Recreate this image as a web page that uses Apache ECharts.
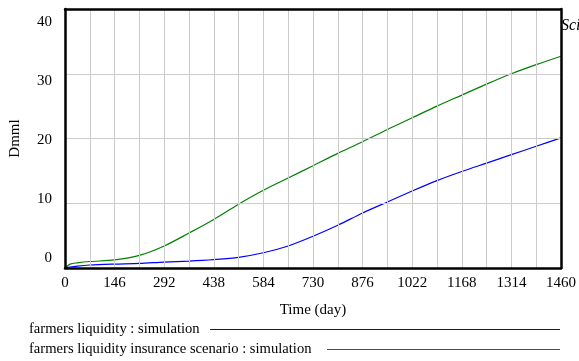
<!DOCTYPE html>
<html>
<head>
<meta charset="utf-8">
<script src="https://cdn.jsdelivr.net/npm/echarts@6/dist/echarts.min.js"></script>
<style>
  html, body { margin: 0; padding: 0; background: #fff; }
  #chart { width: 579px; height: 361px; }
</style>
</head>
<body>
<div id="chart"></div>
<script>
// time (day) samples
const days = [0, 15, 36, 73, 146, 219, 292, 365, 438, 511, 584, 657, 730, 803, 876, 949, 1022, 1095, 1168, 1241, 1314, 1387, 1460];
const liquidity = [0, 0.15, 0.3, 0.46, 0.6, 0.7, 0.92, 1.07, 1.3, 1.65, 2.35, 3.4, 4.9, 6.6, 8.5, 10.2, 11.9, 13.5, 14.9, 16.2, 17.5, 18.8, 20.1];
const insurance = [0, 0.6, 0.8, 1.0, 1.25, 1.95, 3.4, 5.4, 7.5, 9.85, 12.0, 13.9, 15.8, 17.7, 19.5, 21.4, 23.2, 25.0, 26.7, 28.4, 30.0, 31.4, 32.7];
const yTicks = [0, 10, 20, 30, 40];
const seriesNames = ['farmers liquidity : simulation', 'farmers liquidity insurance scenario : simulation'];

const font = 'Liberation Serif';
const chart = echarts.init(document.getElementById('chart'), null, { renderer: 'canvas' });

// vensim puts y labels slightly off their gridlines
const yRich = {};
yTicks.forEach(v => {
  const off = -10 + 0.575 * v;
  yRich['l' + v] = { padding: off > 0 ? [2 * off, 0, 0, 0] : [0, 0, -2 * off, 0] };
});

const frameLine = { show: true, onZero: false, lineStyle: { color: '#000', width: 2.5 } };
const hidden = { show: false };

const option = {
  animation: false,
  textStyle: { fontFamily: font, color: '#000' },
  grid: { left: 65, right: 18, top: 9, bottom: 93 },
  xAxis: [
    {
      type: 'value',
      min: 0, max: 1460, interval: 146,
      name: 'Time (day)',
      nameLocation: 'middle',
      nameGap: 35,
      nameTextStyle: { fontFamily: font, fontSize: 15, color: '#000' },
      axisLine: frameLine,
      axisTick: hidden,
      axisLabel: { fontFamily: font, fontSize: 15, color: '#000', margin: 8, formatter: v => String(v) },
      splitLine: { show: true, lineStyle: { color: '#cccccc', width: 1 } },
      minorTick: { show: false, splitNumber: 2 },
      minorSplitLine: { show: true, lineStyle: { color: '#cccccc', width: 1 } },
      z: 5
    },
    {
      type: 'value', position: 'top',
      min: 0, max: 1460,
      axisLine: frameLine, axisTick: hidden, axisLabel: hidden, splitLine: hidden, z: 5
    }
  ],
  yAxis: [
    {
      type: 'value',
      min: 0, max: 40, interval: 10,
      name: 'Dmml',
      nameLocation: 'middle',
      nameGap: 42,
      nameTextStyle: { fontFamily: font, fontSize: 15, color: '#000' },
      axisLine: frameLine,
      axisTick: hidden,
      axisLabel: {
        fontFamily: font, fontSize: 15, color: '#000', margin: 13,
        formatter: v => `{l${v}|${v}}`,
        rich: yRich
      },
      splitLine: { show: true, lineStyle: { color: '#cccccc', width: 1 } },
      z: 5
    },
    {
      type: 'value', position: 'right',
      min: 0, max: 40,
      axisLine: frameLine, axisTick: hidden, axisLabel: hidden, splitLine: hidden, z: 5
    }
  ],
  series: [
    {
      name: seriesNames[0],
      type: 'line',
      data: days.map((d, i) => [d, liquidity[i]]),
      showSymbol: false,
      smooth: 0.3,
      lineStyle: { color: '#0000ff', width: 1.2 },
      z: 3
    },
    {
      name: seriesNames[1],
      type: 'line',
      data: days.map((d, i) => [d, insurance[i]]),
      showSymbol: false,
      smooth: 0.3,
      lineStyle: { color: '#008000', width: 1.2 },
      z: 2
    }
  ],
  graphic: [
    { type: 'text', left: 561, top: 18, style: { text: 'Sci', font: 'italic 16px "Liberation Serif"', fill: '#000' } },
    { type: 'text', left: 29, top: 322, style: { text: seriesNames[0], font: '14.6px "Liberation Serif"', fill: '#000' } },
    { type: 'line', shape: { x1: 210, y1: 329.5, x2: 560, y2: 329.5 }, style: { stroke: '#0000ff', lineWidth: 1 } },
    { type: 'text', left: 29, top: 342, style: { text: seriesNames[1], font: '14.6px "Liberation Serif"', fill: '#000' } },
    { type: 'line', shape: { x1: 327, y1: 349.5, x2: 560, y2: 349.5 }, style: { stroke: '#008000', lineWidth: 1 } }
  ]
};

chart.setOption(option);
</script>
</body>
</html>
